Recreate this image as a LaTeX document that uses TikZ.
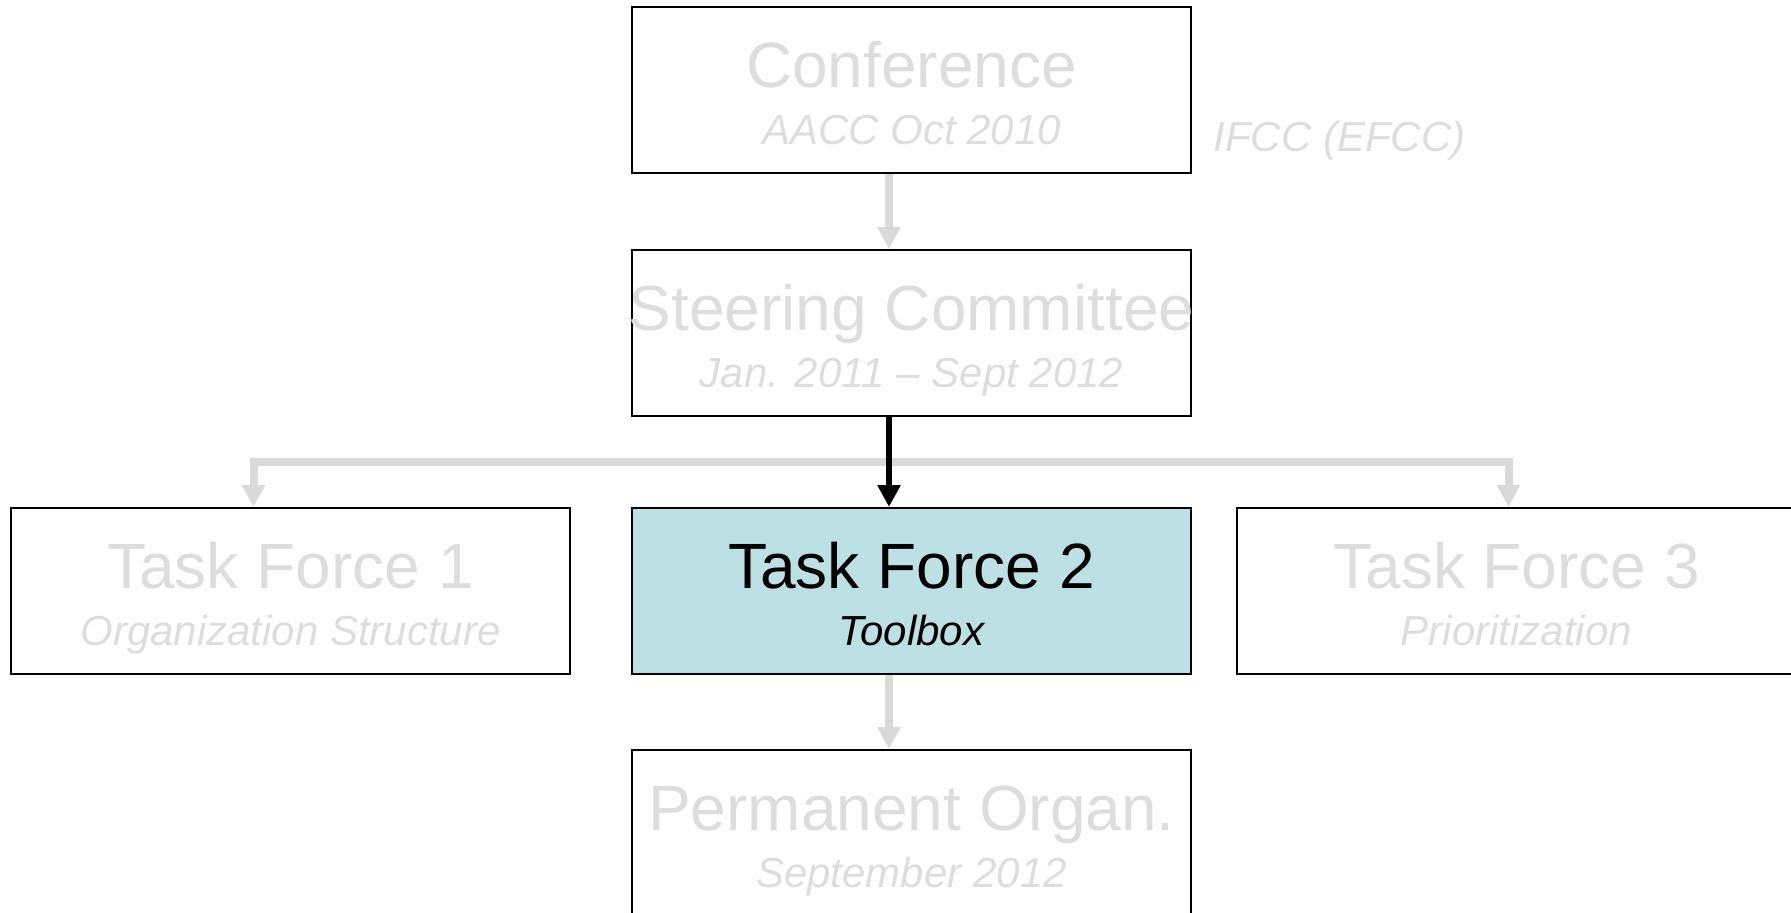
\documentclass[tikz,border=0pt]{standalone}
\usepackage{fontspec}
\setmainfont{Liberation Sans}
\usepackage{tikz}
\usetikzlibrary{positioning,calc,arrows.meta}
\definecolor{fadegray}{RGB}{221,221,221}
\definecolor{linegray}{RGB}{217,217,217}
\definecolor{tfblue}{RGB}{188,224,228}

\newcommand{\cell}[2]{%
    \rule{0pt}{30pt}\makebox[0pt]{#1}\\
    \makebox[0pt]{\fontsize{21}{28.5}\selectfont\itshape #2}\rule[-4.5pt]{0pt}{4.5pt}}

\begin{document}
\begin{tikzpicture}[
    box/.style={rectangle, draw, line width=1pt, minimum width=279.5pt, minimum height=83pt,
        inner sep=0pt, align=center, text=fadegray, font=\fontsize{32}{28.5}\selectfont},
    current/.style={box, fill=tfblue, text=black},
    note/.style={inner sep=0pt, text=fadegray, font=\fontsize{21}{24}\selectfont\itshape},
    >={Triangle[width=11pt,length=11pt]},
    greyarrow/.style={->, draw=linegray, line width=4pt},
    blackarrow/.style={->, draw=black, line width=3.2pt}
]

\useasboundingbox (0,0) rectangle (895.5pt,-456pt);
\clip (0,0) rectangle (895.5pt,-456pt);

\node[box] (conf) at (455.75pt,-45pt) {\cell{Conference}{AACC Oct 2010}};
\node[box, below=37.5pt of conf] (steer) {\cell{Steering Committee}{Jan. 2011 -- Sept 2012}};
\node[current, below=45pt of steer] (tf2) {\cell{Task Force 2}{Toolbox}};
\node[box, left=30pt of tf2] (tf1) {\cell{Task Force 1}{Organization Structure}};
\node[box, right=22pt of tf2] (tf3) {\cell{Task Force 3}{Prioritization}};
\node[box, below=37pt of tf2] (perm) {\cell{Permanent Organ.}{September 2012}};

\node[note, anchor=base west] (ifcc) at ($(conf.east)+(10.5pt,-30.5pt)$) {IFCC (EFCC)};

% arrows run left of the box centres
\coordinate (spine) at (444.5pt,0);
\coordinate (branch) at ($(steer.south)!0.5!(tf2.north)$);

\draw[greyarrow] (conf.south -| spine) -- (steer.north -| spine);
\draw[greyarrow, <->] ($(tf1.north)+(-18.5pt,0)$) |- (branch) -| ($(tf3.north)+(-4pt,0)$);
\draw[blackarrow] (steer.south -| spine) -- (tf2.north -| spine);
\draw[greyarrow] (tf2.south -| spine) -- (perm.north -| spine);

\end{tikzpicture}
\end{document}
